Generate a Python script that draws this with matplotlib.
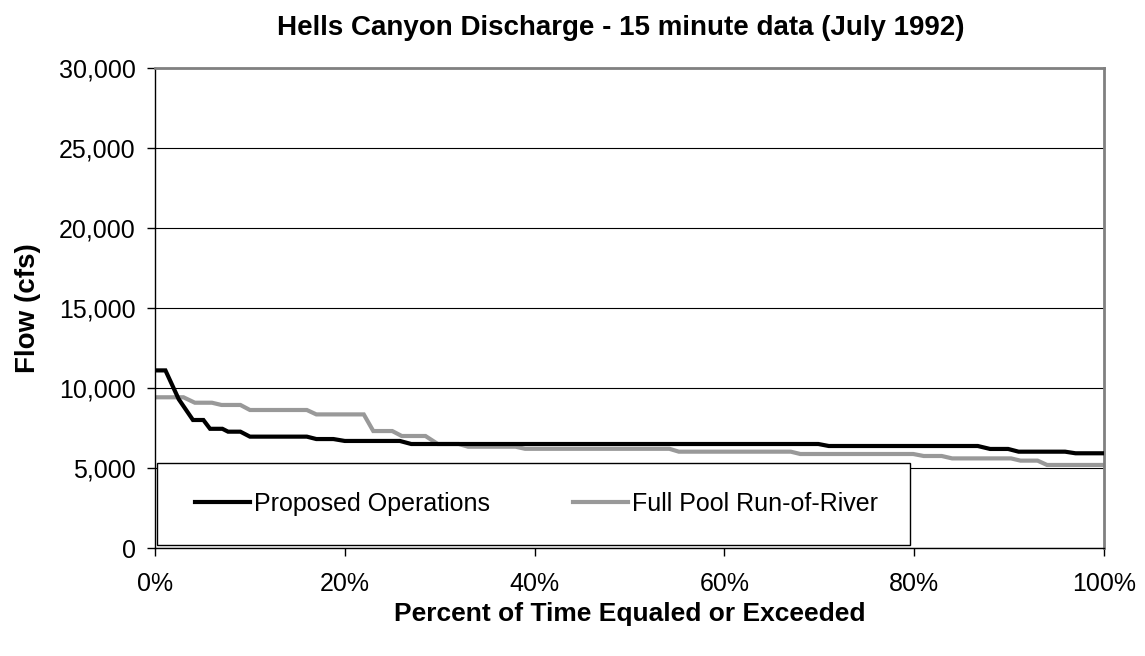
import matplotlib
matplotlib.use("Agg")
import matplotlib.pyplot as plt
from matplotlib.patches import Rectangle
from matplotlib.ticker import FuncFormatter

plt.rcParams['font.family'] = ['Liberation Sans', 'DejaVu Sans']

# flow duration curves, breakpoints (percent of time, cfs)
prop_pct = [0, 1.1, 2.5, 4.0, 5.1, 5.8, 7.1, 7.7, 9.0, 10, 16, 17, 18.8, 20, 25.8,
            27, 69.9, 71, 86.7, 88, 89.9, 91, 95.9, 97, 100]
prop_flow = [11100, 11100, 9300, 8000, 8000, 7450, 7450, 7270, 7270, 6960, 6960,
             6810, 6810, 6690, 6690, 6500, 6500, 6375, 6375, 6190, 6190, 6020,
             6020, 5920, 5920]

pool_pct = [0, 3.0, 4.2, 6, 7, 9, 10, 16, 17, 22, 23, 25, 26, 28.5, 29.8, 32, 33,
            38, 39, 54.2, 55.2, 67, 68, 79.9, 81, 82.9, 84, 90.2, 91.2, 93, 94, 100]
pool_flow = [9420, 9420, 9080, 9080, 8940, 8940, 8625, 8625, 8350, 8350, 7310,
             7310, 7000, 7000, 6500, 6500, 6330, 6330, 6200, 6200, 6020, 6020,
             5875, 5875, 5750, 5750, 5600, 5600, 5460, 5460, 5190, 5190]

y_ticks = [0, 5000, 10000, 15000, 20000, 25000, 30000]
x_ticks = [0, 20, 40, 60, 80, 100]

W, H = 1145, 656
fig = plt.figure(figsize=(W / 100, H / 100), dpi=100)
ax = fig.add_axes([155/W, 1 - 548/H, (1104 - 155)/W, (548 - 68)/H])

ax.plot(prop_pct, prop_flow, color='black', lw=3.0, solid_joinstyle='miter',
        label='Proposed Operations', zorder=3)
ax.plot(pool_pct, pool_flow, color='#999999', lw=3.0, solid_joinstyle='miter',
        label='Full Pool Run-of-River', zorder=2)

ax.set_xlim(0, 100)
ax.set_ylim(0, 30000)
ax.set_yticks(y_ticks)
ax.set_xticks(x_ticks)
ax.yaxis.set_major_formatter(FuncFormatter(lambda v, p: f"{int(v):,}"))
ax.xaxis.set_major_formatter(FuncFormatter(lambda v, p: f"{int(v)}%"))
ax.tick_params(axis='both', direction='out', length=6, width=1, labelsize=18,
               color='black')
ax.tick_params(axis='y', pad=8)
ax.tick_params(axis='x', pad=11)

ax.grid(axis='y', color='black', lw=0.8)
ax.set_axisbelow(True)
for s in ['top', 'right']:
    ax.spines[s].set_color('#808080')
    ax.spines[s].set_linewidth(2.0)
for s in ['left', 'bottom']:
    ax.spines[s].set_color('black')
    ax.spines[s].set_linewidth(1.0)

# legend box drawn separately so the entries can sit inset from the frame
def px_x(x):
    return (x - 155) / (1104 - 155)

def px_y(y):
    return (548 - y) / (548 - 68)

box = Rectangle((px_x(157), px_y(545)), px_x(910) - px_x(157), px_y(463) - px_y(545),
                transform=ax.transAxes, facecolor='white', edgecolor='black',
                lw=1.0, zorder=4)
ax.add_patch(box)

leg = ax.legend(loc='center left',
                bbox_to_anchor=(px_x(195), px_y(545), px_x(878) - px_x(195),
                                px_y(463) - px_y(545)),
                mode='expand', ncol=2, fontsize=18, frameon=False,
                borderpad=0, handlelength=2.2, handletextpad=0.15,
                borderaxespad=0)
leg.set_zorder(5)

fig.text(621/W, 1 - 28/H, 'Hells Canyon Discharge - 15 minute data (July 1992)',
         ha='center', va='center', fontsize=20, fontweight='bold')
fig.text(630/W, 1 - 614/H, 'Percent of Time Equaled or Exceeded',
         ha='center', va='center', fontsize=19, fontweight='bold')
fig.text(28/W, 1 - 308/H, 'Flow (cfs)', ha='center', va='center',
         rotation=90, fontsize=20, fontweight='bold')

fig.savefig('out.png', dpi=100)
